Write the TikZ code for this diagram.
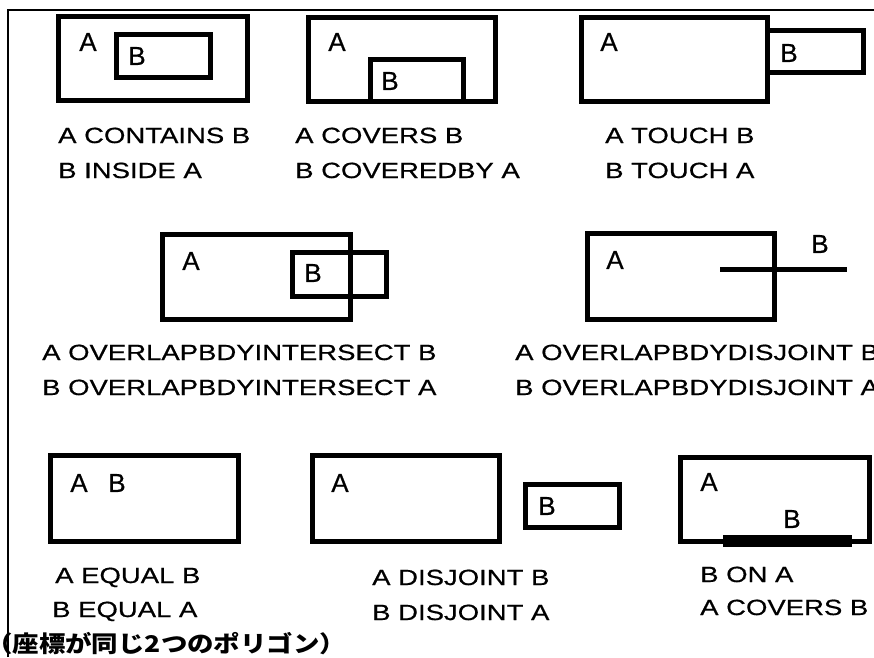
\documentclass[tikz,border=0pt]{standalone}
\usepackage{fontspec}
\setmainfont{Liberation Sans}[FakeBold=0.6]
\newfontfamily\relfont{Liberation Sans}[FakeStretch=1.25, FakeBold=0.6]
\newfontfamily\notefont{Noto Sans CJK JP}[FakeStretch=1.15]

\tikzset{
    region/.style={line width=5pt},
    frameline/.style={line width=1.5pt},
    lbl/.style={font=\fontsize{26}{26}\selectfont, inner sep=0pt},
    rel/.style={font=\relfont\fontsize{22}{34}\selectfont, inner sep=0pt, anchor=base west},
}

\begin{document}
\begin{tikzpicture}[x=1pt, y=-1pt]
    \useasboundingbox (0,0) rectangle (874,657);
    \clip (0,0) rectangle (874,657);

    \draw[frameline] (8,657) -- (8,10) -- (874,10);

    % contains / inside
    \draw[region] (58,16) rectangle (247,100);
    \draw[region] (116,34) rectangle (210,77);
    \node[lbl] (a1) at (88,42) {A};
    \node[lbl] (b1) at (137,56) {B};
    \node[rel] (r1a) at (58,143) {A CONTAINS B};
    \node[rel] (r1b) at (58,178) {B INSIDE A};

    % covers / coveredby
    \draw[region] (308,17) rectangle (495,101);
    \draw[region] (370,59) rectangle (463,101);
    \node[lbl] (a2) at (337,42) {A};
    \node[lbl] (b2) at (390,81) {B};
    \node[rel] (r2a) at (295,143) {A COVERS B};
    \node[rel] (r2b) at (295,178) {B COVEREDBY A};

    % touch
    \draw[region] (581,17) rectangle (767,101);
    \draw[region] (767,30) rectangle (863,72);
    \node[lbl] (a3) at (609,42) {A};
    \node[lbl] (b3) at (789,53) {B};
    \node[rel] (r3a) at (605,143) {A TOUCH B};
    \node[rel] (r3b) at (605,178) {B TOUCH A};

    % overlapbdyintersect
    \draw[region] (162,234) rectangle (350,319);
    \draw[region] (292,252) rectangle (386,296);
    \node[lbl] (a4) at (191,261) {A};
    \node[lbl] (b4) at (313,273) {B};
    \node[rel] (r4a) at (42,360) {A OVERLAPBDYINTERSECT B};
    \node[rel] (r4b) at (42,395) {B OVERLAPBDYINTERSECT A};

    % overlapbdydisjoint
    \draw[region] (587,233) rectangle (774,319);
    \draw[region] (720,269) -- (847,269);
    \node[lbl] (a5) at (615,260) {A};
    \node[lbl] (b5) at (820,244) {B};
    \node[rel] (r5a) at (515,360) {A OVERLAPBDYDISJOINT B};
    \node[rel] (r5b) at (515,395) {B OVERLAPBDYDISJOINT A};

    % equal
    \draw[region] (50,455) rectangle (238,541);
    \node[lbl] (a6) at (79,483) {A};
    \node[lbl] (b6) at (117,483) {B};
    \node[rel] (r6a) at (55,583) {A EQUAL B};
    \node[rel] (r6b) at (52,617) {B EQUAL A};
    \node[font=\notefont\bfseries\fontsize{23}{23}\selectfont, inner sep=0pt, anchor=base west]
        (note) at (-14,652) {（座標が同じ2つのポリゴン）};

    % disjoint
    \draw[region] (312,455) rectangle (499,541);
    \draw[region] (525,484) rectangle (619,527);
    \node[lbl] (a7) at (340,483) {A};
    \node[lbl] (b7) at (547,506) {B};
    \node[rel] (r7a) at (372,585) {A DISJOINT B};
    \node[rel] (r7b) at (372,620) {B DISJOINT A};

    % on
    \draw[region] (680,457) rectangle (869,541);
    \draw[line width=12pt] (723,541) -- (852,541);
    \node[lbl] (a8) at (709,482) {A};
    \node[lbl] (b8) at (792,519) {B};
    \node[rel] (r8a) at (700,582) {B ON A};
    \node[rel] (r8b) at (700,615) {A COVERS B};
\end{tikzpicture}
\end{document}
